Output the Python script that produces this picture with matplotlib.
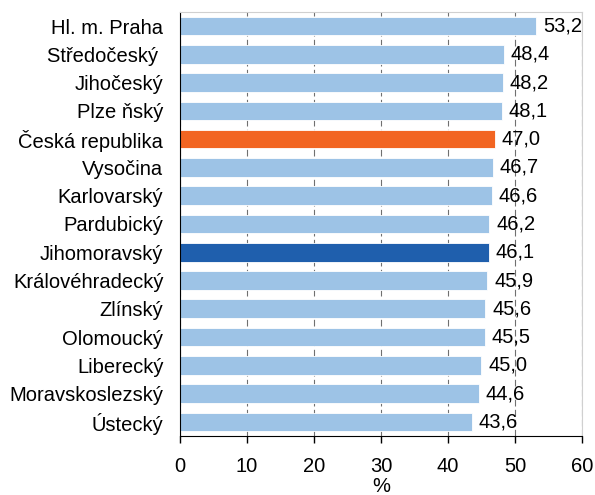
import matplotlib.pyplot as plt

plt.rcParams['font.family'] = ['Liberation Sans', 'DejaVu Sans']

regions = ['Hl. m. Praha', 'Středočeský ', 'Jihočeský', 'Plze ňský', 'Česká republika',
           'Vysočina', 'Karlovarský', 'Pardubický', 'Jihomoravský', 'Královéhradecký',
           'Zlínský', 'Olomoucký', 'Liberecký', 'Moravskoslezský', 'Ústecký']
values = [53.2, 48.4, 48.2, 48.1, 47.0, 46.7, 46.6, 46.2, 46.1, 45.9, 45.6, 45.5, 45.0, 44.6, 43.6]

colors = []
for r in regions:
    if r == 'Česká republika':
        colors.append('#F26522')
    elif r == 'Jihomoravský':
        colors.append('#1F5FAD')
    else:
        colors.append('#9DC3E6')

fs = 14.5
fig = plt.figure(figsize=(5.95, 4.95), dpi=100)
ax = fig.add_axes([0.3025, 0.119, 0.6755, 0.857])

y = list(range(len(regions)))
ax.barh(y, values, height=0.66, color=colors, edgecolor='white', linewidth=0.6, zorder=2)
for yi, v in zip(y, values):
    ax.text(v + 1.0, yi, f'{v:.1f}'.replace('.', ','), va='center', ha='left', fontsize=fs, zorder=3)

ax.set_yticks(y)
ax.set_yticklabels(regions, fontsize=fs)
ax.set_ylim(len(regions) - 0.5, -0.5)
ax.set_xlim(0, 60)
ax.set_xticks(range(0, 61, 10))
ax.tick_params(axis='x', labelsize=fs, direction='out', length=5, width=1, color='black', pad=10)
ax.tick_params(axis='y', length=0, pad=12)
ax.xaxis.grid(True, linestyle=(0, (6, 3)), color='#707070', linewidth=0.8, zorder=0)
ax.set_axisbelow(True)

ax.spines['left'].set_color('black')
ax.spines['bottom'].set_color('black')
ax.spines['top'].set_color('#d0d0d0')
ax.spines['right'].set_color('#d0d0d0')
ax.set_xlabel('%', fontsize=fs, labelpad=1)

plt.savefig('out.png', dpi=100)
